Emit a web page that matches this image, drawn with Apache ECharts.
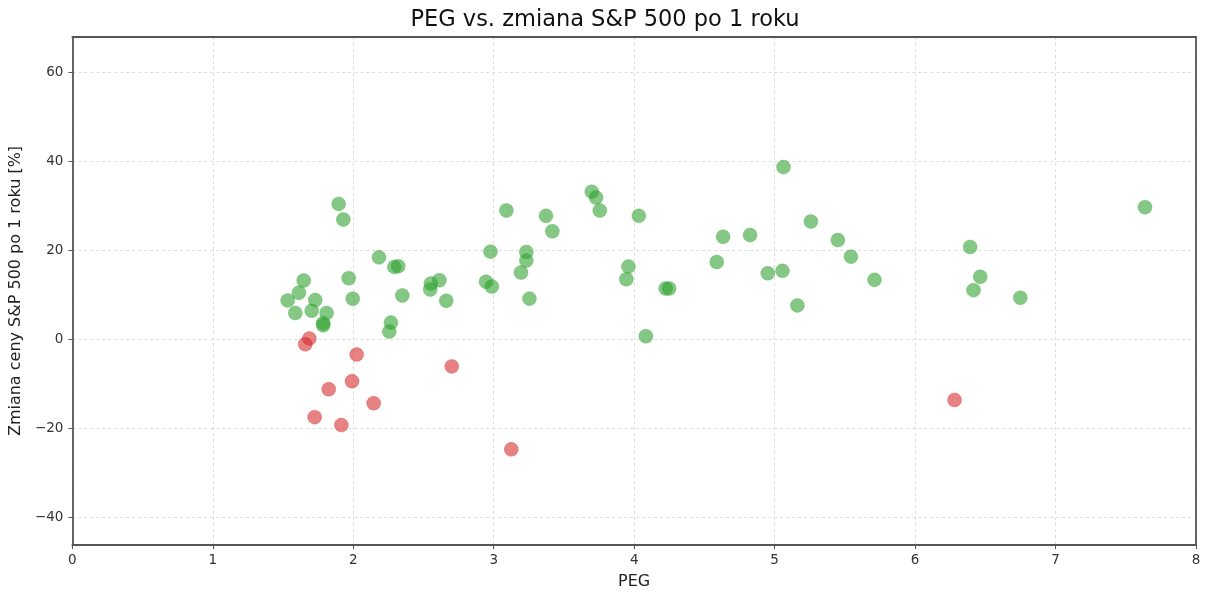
<!DOCTYPE html>
<html>
<head>
<meta charset="utf-8">
<script src="https://cdn.jsdelivr.net/npm/echarts@6/dist/echarts.min.js"></script>
<style>html,body{margin:0;padding:0;background:#fff;}#c{width:1210px;height:600px;}</style>
</head>
<body>
<div id="c"></div>
<script>
const title = 'PEG vs. zmiana S&P 500 po 1 roku';
const xName = 'PEG';
const yName = 'Zmiana ceny S&P 500 po 1 roku [%]';
const xTicks = [0, 1, 2, 3, 4, 5, 6, 7, 8];
const yTicks = [-40, -20, 0, 20, 40, 60];

const positivePEG = [1.533,1.587,1.613,1.647,1.704,1.729,1.786,1.786,1.810,1.896,1.929,1.967,1.996,2.183,2.292,2.320,2.349,2.268,2.256,2.553,2.548,2.613,2.662,2.945,2.986,2.977,3.090,3.194,3.232,3.232,3.254,3.372,3.417,3.698,3.729,3.755,4.033,3.959,3.944,4.083,4.224,4.249,4.588,4.633,4.825,4.951,5.056,5.063,5.162,5.258,5.450,5.543,5.711,6.392,6.464,6.416,6.749,7.637];
const positiveChange = [8.73,5.89,10.45,13.21,6.42,8.80,3.58,3.13,5.89,30.45,26.93,13.72,9.11,18.42,16.27,16.41,9.85,3.74,1.72,12.54,11.19,13.28,8.66,12.92,11.86,19.70,28.95,15.00,17.69,19.63,9.13,27.76,24.29,33.20,31.86,28.95,27.76,16.34,13.50,0.67,11.42,11.42,17.39,23.06,23.44,14.84,15.38,38.73,7.61,26.48,22.32,18.58,13.36,20.75,14.04,11.04,9.34,29.71];

const negativePEG = [1.687,1.658,2.024,2.701,1.991,1.825,2.145,1.725,1.915,3.125,6.281];
const negativeChange = [0.16,-1.12,-3.43,-6.11,-9.47,-11.26,-14.39,-17.53,-19.32,-24.78,-13.66];

const pos = positivePEG.map((x, i) => [x, positiveChange[i]]);
const neg = negativePEG.map((x, i) => [x, negativeChange[i]]);

const font = 'DejaVu Sans';
const frame = { show: true, onZero: false, lineStyle: { color: '#555', width: 1.8 } };
const chart = echarts.init(document.getElementById('c'));
chart.setOption({
  animation: false,
  backgroundColor: '#fff',
  title: {
    text: title, left: 'center', top: 4,
    textStyle: { fontFamily: font, fontSize: 22.5, fontWeight: 'normal', color: '#111' }
  },
  grid: { left: 71.5, right: 14, top: 37, bottom: 55, show: false },
  xAxis: [{
    type: 'value', min: 0, max: 8, interval: 1,
    name: xName, nameLocation: 'middle', nameGap: 28.5,
    nameTextStyle: { fontFamily: font, fontSize: 16, color: '#222' },
    axisLine: frame,
    axisTick: { show: true, length: 4, lineStyle: { color: '#555' }, customValues: xTicks },
    axisLabel: { fontFamily: font, fontSize: 13.5, color: '#333', margin: 8, customValues: xTicks },
    splitLine: { show: true, lineStyle: { color: '#ddd', type: [3, 3], width: 1 } },
    z: 0
  }, {
    type: 'value', min: 0, max: 8, position: 'top',
    axisLine: frame, axisTick: { show: false }, axisLabel: { show: false }, splitLine: { show: false }, z: 5
  }],
  yAxis: [{
    type: 'value', min: -46.3, max: 68,
    name: yName, nameLocation: 'middle', nameGap: 47,
    nameTextStyle: { fontFamily: font, fontSize: 16, color: '#222' },
    axisLine: frame,
    axisTick: { show: true, length: 4, lineStyle: { color: '#555' }, customValues: yTicks },
    axisLabel: { fontFamily: font, fontSize: 13.5, color: '#333', margin: 9, customValues: yTicks,
      formatter: v => (v < 0 ? '\u2212' + Math.abs(v) : String(v)) },
    splitLine: { show: true, lineStyle: { color: '#ddd', type: [3, 3], width: 1 } },
    z: 0
  }, {
    type: 'value', min: -46.3, max: 68, position: 'right',
    axisLine: frame, axisTick: { show: false }, axisLabel: { show: false }, splitLine: { show: false }, z: 5
  }],
  series: [
    { type: 'scatter', data: pos, symbolSize: 14, xAxisIndex: 0, yAxisIndex: 0, z: 3,
      itemStyle: { color: 'rgba(44,160,44,0.72)', borderColor: 'rgba(44,160,44,0.35)', borderWidth: 1 } },
    { type: 'scatter', data: neg, symbolSize: 14, xAxisIndex: 0, yAxisIndex: 0, z: 3,
      itemStyle: { color: 'rgba(214,39,40,0.72)', borderColor: 'rgba(214,39,40,0.35)', borderWidth: 1 } }
  ]
});
</script>
</body>
</html>
